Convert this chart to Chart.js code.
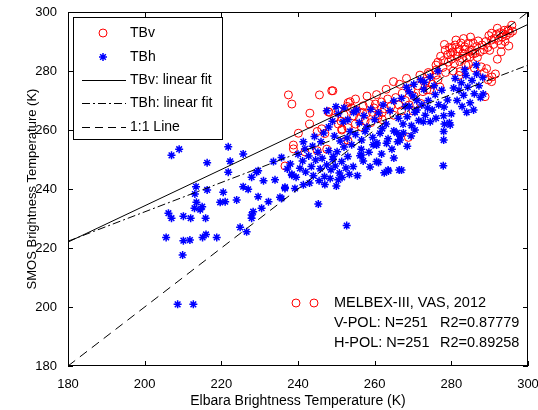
<!DOCTYPE html>
<html>
<head>
<meta charset="utf-8">
<script src="https://cdn.jsdelivr.net/npm/chart.js@4/dist/chart.umd.min.js"></script>
<style>
  html, body { margin: 0; padding: 0; background: #fff; }
  #wrap { width: 538px; height: 410px; }
</style>
</head>
<body>
<div id="wrap"><canvas id="scatterChart" width="538" height="410"></canvas></div>
<script>
// axis ticks
const xTicks = [180, 200, 220, 240, 260, 280, 300];
const yTicks = [180, 200, 220, 240, 260, 280, 300];

// TBv (V-pol) points: [Elbara, SMOS]
const tbvPoints = [
  [237.5,271.9],[238.4,268.8],[245.6,271.9],[248.8,273.3],[243.1,265.7],[248.1,266.0],[253.1,269.3],
  [240.1,258.9],[238.8,254.9],[238.8,253.6],[236.6,247.8],[241.8,252.6],[245.0,259.5],[246.2,260.4],
  [247.0,258.8],[245.0,253.0],[247.5,253.5],[250.5,262.0],[251.4,260.0],[252.0,256.0],[253.0,256.5],
  [255.0,262.0],[249.1,273.3],[243.0,262.0],[247.9,266.2],
  [249.5,264.0],[250.5,266.5],[251.2,263.0],[252.0,265.2],[252.8,268.0],[253.6,269.6],[254.5,264.8],
  [255.3,266.6],[256.0,263.8],[257.0,268.2],[257.8,265.5],[258.6,269.0],[259.4,266.0],[260.2,268.8],
  [261.0,265.0],[261.8,269.5],[262.6,267.2],[263.4,270.5],[264.2,268.0],[264.9,276.4],[265.5,271.0],
  [266.3,268.5],[267.2,272.5],[268.0,270.0],[268.3,277.5],[268.8,257.5],[269.5,273.8],[270.3,271.5],
  [271.2,275.0],[271.8,278.6],[272.6,273.0],[273.4,276.5],[273.6,273.6],[274.3,279.0],[275.0,275.5],
  [276.0,280.3],[276.5,277.0],[251.5,260.3],[253.0,260.8],[256.5,261.0],[259.0,262.5],[262.0,263.5],
  [265.0,265.0],[258.0,271.5],[260.5,272.0],[255.0,270.5],[263.0,273.8],[266.5,275.5],[270.0,266.5],
  [272.0,269.0],[254.0,267.5],[256.8,266.0],[259.8,267.5],[262.0,266.0],[257.5,263.0],[260.8,264.0],
  [274.0,279.5],[267.0,266.5],[269.0,268.5],
  [276.5,283.0],[277.2,285.0],[278.0,283.5],[278.4,287.1],[279.0,285.5],[279.5,288.0],[280.0,284.0],
  [280.4,286.5],[281.0,288.8],[281.5,285.0],[282.0,287.5],[282.5,289.5],[283.0,286.0],[283.5,288.2],
  [284.0,284.5],[284.4,289.4],[284.9,284.8],[285.3,287.0],[285.7,289.5],[286.2,286.0],[286.6,288.3],
  [287.0,290.2],[287.5,286.5],[288.0,288.8],[288.5,287.2],[289.0,290.0],[289.5,288.0],[290.0,287.0],
  [290.5,290.5],[291.0,289.0],[279.2,283.0],[280.8,282.5],[282.2,283.2],[283.8,282.0],[277.8,281.2],
  [276.0,282.0],[281.2,290.5],[283.2,291.0],[285.0,291.5],[278.2,289.0],[280.2,287.8],[282.8,284.3],
  [284.6,286.6],[286.8,284.6],[281.6,286.6],[279.8,286.0],[283.6,287.4],[285.6,285.8],
  [291.2,291.0],[291.8,292.5],[292.3,290.3],[292.8,293.0],[293.3,291.5],[293.8,293.8],[294.3,292.0],
  [294.8,294.0],[295.3,292.8],[295.8,295.5],[296.0,293.5],[292.0,294.5],[290.5,292.8],[294.0,290.0],
  [293.0,289.0],[289.8,292.0],[295.0,293.6],[293.6,292.6],
  [282.3,279.8],[287.8,281.4],[288.6,279.5],[289.2,280.8],[290.6,278.0],[291.5,279.0],[289.6,277.0],
  [288.8,271.3],[290.5,276.4],[276.0,278.6],[278.5,279.5],[280.5,280.0],[282.0,278.5],[274.4,273.6],
  [277.0,274.6],[284.5,282.2],[286.0,281.0],[292.0,284.0],[293.0,286.5],[295.0,288.5]
];

// TBh (H-pol) points: [Elbara, SMOS]
const tbhPoints = [
  [209.0,253.5],[207.0,251.4],[221.8,254.3],[225.7,251.9],[216.3,248.9],[221.8,245.7],[229.2,245.7],
  [213.4,240.8],[216.3,239.7],[213.1,238.3],[220.5,238.9],[225.7,240.8],[227.0,239.9],[224.0,236.3],
  [219.7,235.5],[221.0,235.7],[213.5,235.5],[215.0,234.0],[213.0,233.5],[214.5,233.0],[206.2,231.8],
  [207.0,230.1],[210.1,230.8],[212.0,230.1],[215.9,230.1],[228.3,232.3],[227.9,230.1],[224.9,227.0],
  [226.6,225.5],[205.6,223.6],[210.1,222.5],[211.8,222.7],[215.1,223.6],[216.0,224.6],[218.8,223.6],
  [209.9,217.6],[208.6,200.9],[212.7,200.9],
  [249.9,267.9],[222.3,249.4],[235.7,250.7],[233.6,249.3],[229.6,246.2],[227.9,244.0],[231.0,242.8],
  [234.0,243.1],[238.4,245.0],[236.6,240.6],[239.2,240.2],[241.4,241.4],[229.6,237.4],[232.3,235.7],
  [235.3,237.2],[230.5,233.5],[227.9,231.2],[245.3,234.9],[250.5,243.1],[252.7,227.6],[241.4,256.0],
  [246.0,256.0],[248.0,261.0],[251.8,262.8],[252.8,257.3],[249.2,251.0],[235.7,236.8],[238.4,244.7],
  [236.6,240.2],
  [240.5,247.0],[241.2,249.5],[242.0,245.8],[242.8,251.2],[243.5,247.6],[244.0,244.5],[244.6,249.8],
  [245.2,252.5],[245.8,246.9],[246.3,250.4],[246.9,244.2],[247.5,248.1],[248.0,253.0],[248.6,246.5],
  [249.1,250.0],[249.7,247.8],[250.2,252.6],[250.8,245.4],[251.4,249.3],[252.0,254.2],[252.5,247.1],
  [253.0,251.0],[240.0,251.8],[241.8,253.6],[243.8,254.5],[245.5,242.8],[247.0,241.5],[248.4,243.6],
  [250.0,241.0],[251.5,243.9],[253.4,245.0],[243.0,242.0],[238.0,248.5],[239.5,244.0],[237.2,246.8],
  [244.3,257.8],[246.7,259.0],[249.5,258.0],[251.0,256.3],[253.6,259.5],
  [256.2,251.3],[260.5,254.9],[261.8,251.9],[260.5,249.3],[263.6,246.1],[266.4,246.4],[261.4,258.9],
  [263.1,255.5],[265.8,259.0],[256.6,256.6],
  [278.0,256.6],[278.0,259.5],[278.2,262.0],[278.0,264.8],[278.1,267.8],[277.9,247.9],[263.5,246.4],
  [261.0,249.0],[254.4,247.6],[256.6,251.5],[259.6,255.0],[260.6,255.6],[263.5,257.0],[265.0,259.7],
  [266.6,258.0],[266.6,256.6],[267.0,246.4],[272.7,262.8],[279.7,261.7],
  [267.4,262.0],[268.5,264.5],[269.6,261.5],[270.5,266.0],[271.5,263.2],[272.3,268.5],[273.2,265.0],
  [274.0,270.0],[275.0,266.8],[275.8,272.0],[276.7,268.6],[277.5,273.5],[279.0,270.2],[268.3,274.5],
  [270.0,271.5],[272.8,273.8],[274.5,262.8],[276.0,264.0],[279.5,262.5],[280.0,265.5],[269.0,268.0],
  [271.0,266.8],[273.8,267.5],
  [281.5,270.0],[282.0,273.5],[282.6,276.0],[283.2,271.8],[283.8,278.5],[284.3,274.5],[284.9,269.2],
  [285.4,276.8],[286.0,272.3],[286.6,279.0],[287.2,275.0],[281.0,277.5],[282.8,268.0],[285.8,266.8],
  [287.6,271.0],[283.5,280.5],[280.6,274.2],[288.2,277.8],[284.0,266.0],[286.5,282.0],[288.3,272.2],
  [253.0,263.5],[254.5,266.0],[255.3,266.8],[256.0,262.5],[257.2,264.8],[258.0,261.0],[259.0,267.0],
  [260.0,263.5],[261.0,265.8],[262.2,268.5],[263.0,262.0],[264.0,266.5],[265.0,269.8],[266.2,264.0],
  [267.0,270.8],[268.0,268.0],[269.0,273.0],[270.2,275.5],[271.0,270.0],[272.0,277.0],[273.0,276.2],
  [274.5,278.0],[275.5,275.0],[276.5,280.0],[249.0,263.0],[250.5,265.5],[252.0,267.5],[247.5,266.5],
  [254.0,255.0],[255.0,258.5],[256.5,253.5],[257.5,259.5],[258.5,252.5],[259.5,257.5],[262.0,260.5],
  [264.5,253.5],[266.0,256.0],[267.5,259.0],[268.5,254.5],[269.5,258.0],[270.5,260.0],[257.0,249.5],
  [258.8,247.5],[255.5,244.5],[265.0,250.5],[262.5,245.5]
];

// regression lines and 1:1 line (end points)
const fitX = [180, 300];
const tbvFitY = [222.0, 295.8];
const tbhFitY = [222.3, 282.0];
const oneToOneY = [180, 300];

const legendLabels = ["TBv", "TBh", "TBv: linear fit", "TBh: linear fit", "1:1 Line"];
const noteLines = ["MELBEX-III, VAS, 2012", "V-POL: N=251", "H-POL: N=251"];
const noteR2 = ["", "R2=0.87779", "R2=0.89258"];

const FONT = '"Liberation Sans", Arial, Helvetica, sans-serif';
Chart.defaults.font.family = FONT;
Chart.defaults.color = "#000";

const toXY = arr => arr.map(p => ({ x: p[0], y: p[1] }));
const lineXY = ys => fitX.map((x, i) => ({ x: x, y: ys[i] }));

// open circle helper (drawPoint fills too)
function ring(ctx, style, x, y, w) {
  ctx.save();
  ctx.fillStyle = "rgba(0,0,0,0)";
  Chart.helpers.drawPoint(ctx, { pointStyle: style, radius: 4, borderWidth: w }, x, y);
  ctx.restore();
}

// box, inside ticks, legend and the note text
const framePlugin = {
  id: "frame",
  afterDraw(chart) {
    const { ctx, chartArea: a, scales } = chart;
    const x = scales.x, y = scales.y;
    ctx.save();
    ctx.strokeStyle = "#000";
    ctx.lineWidth = 1;
    ctx.setLineDash([]);
    ctx.strokeRect(Math.round(a.left) + 0.5, Math.round(a.top) + 0.5,
                   Math.round(a.width) - 1, Math.round(a.height) - 1);

    ctx.beginPath();
    xTicks.forEach(v => {
      const px = Math.round(x.getPixelForValue(v)) + 0.5;
      ctx.moveTo(px, a.bottom); ctx.lineTo(px, a.bottom - 5);
      ctx.moveTo(px, a.top); ctx.lineTo(px, a.top + 5);
    });
    yTicks.forEach(v => {
      const py = Math.round(y.getPixelForValue(v)) + 0.5;
      ctx.moveTo(a.left, py); ctx.lineTo(a.left + 5, py);
      ctx.moveTo(a.right, py); ctx.lineTo(a.right - 5, py);
    });
    ctx.stroke();

    // legend box
    const lx = Math.round(a.left) + 5, ly = Math.round(a.top) + 5, lw = 149, lh = 122;
    ctx.fillStyle = "#fff";
    ctx.fillRect(lx, ly, lw, lh);
    ctx.strokeRect(lx + 0.5, ly + 0.5, lw, lh);

    const rows = [16, 40, 63, 86, 110];
    const mx = lx + 30;
    ctx.font = "14px " + FONT;
    ctx.textBaseline = "middle";
    ctx.textAlign = "left";
    ctx.fillStyle = "#000";
    rows.forEach((r, i) => {
      ctx.fillText(legendLabels[i], lx + 57, ly + r);
    });
    ctx.strokeStyle = "#ff0000";
    ctx.lineWidth = 1;
    ring(ctx, "circle", mx, ly + rows[0], 1);
    ctx.strokeStyle = "#0000ff";
    ctx.lineWidth = 1.5;
    ring(ctx, "star", mx, ly + rows[1], 1.5);

    ctx.strokeStyle = "#000";
    ctx.lineWidth = 1;
    const dashes = [[], [8, 3, 2, 3], [8, 5]];
    dashes.forEach((d, i) => {
      ctx.setLineDash(d);
      ctx.beginPath();
      const ry = Math.round(ly + rows[i + 2]) + 0.5;
      ctx.moveTo(lx + 9, ry);
      ctx.lineTo(lx + 53, ry);
      ctx.stroke();
    });
    ctx.setLineDash([]);

    // note at the lower right
    const nx = a.left + 266, ny = a.bottom - 63;
    ctx.strokeStyle = "#ff0000";
    ctx.lineWidth = 1;
    ring(ctx, "circle", a.left + 228, ny, 1);
    ring(ctx, "circle", a.left + 246, ny, 1);
    ctx.fillStyle = "#000";
    ctx.font = "14.5px " + FONT;
    noteLines.forEach((t, i) => {
      ctx.fillText(t, nx, ny + i * 20);
      if (noteR2[i]) ctx.fillText(noteR2[i], a.left + 372, ny + i * 20);
    });
    ctx.restore();
  }
};

new Chart(document.getElementById("scatterChart"), {
  type: "scatter",
  data: {
    datasets: [
      {
        label: "TBv: linear fit",
        data: lineXY(tbvFitY),
        showLine: true,
        borderColor: "#000",
        borderWidth: 1,
        pointRadius: 0,
        order: 0
      },
      {
        label: "TBh: linear fit",
        data: lineXY(tbhFitY),
        showLine: true,
        borderColor: "#000",
        borderWidth: 1,
        borderDash: [8, 3, 2, 3],
        pointRadius: 0,
        order: 0
      },
      {
        label: "1:1 Line",
        data: lineXY(oneToOneY),
        showLine: true,
        borderColor: "#000",
        borderWidth: 1,
        borderDash: [9, 6],
        pointRadius: 0,
        order: 0
      },
      {
        label: "TBh",
        data: toXY(tbhPoints),
        pointStyle: "star",
        pointRadius: 4,
        borderColor: "#0000ff",
        backgroundColor: "#0000ff",
        borderWidth: 1.5,
        order: 1
      },
      {
        label: "TBv",
        data: toXY(tbvPoints),
        pointStyle: "circle",
        pointRadius: 4,
        borderColor: "#ff0000",
        backgroundColor: "rgba(0,0,0,0)",
        borderWidth: 1,
        order: 2
      }
    ]
  },
  options: {
    responsive: false,
    animation: false,
    layout: { padding: { left: 25, right: 10, top: 12, bottom: 0 } },
    plugins: {
      legend: { display: false },
      tooltip: { enabled: false }
    },
    scales: {
      x: {
        type: "linear",
        min: 180,
        max: 300,
        afterBuildTicks: s => { s.ticks = xTicks.map(v => ({ value: v })); },
        afterFit: s => { s.height = 44; s.paddingLeft = 0; s.paddingRight = 0; },
        ticks: { font: { size: 13 }, padding: 3, color: "#000", maxRotation: 0 },
        grid: { display: false },
        border: { display: false },
        title: { display: true, text: "Elbara Brightness Temperature (K)", font: { size: 14 }, padding: 0, color: "#000" }
      },
      y: {
        type: "linear",
        min: 180,
        max: 300,
        afterBuildTicks: s => { s.ticks = yTicks.map(v => ({ value: v })); },
        afterFit: s => { s.width = 43; s.paddingTop = 0; s.paddingBottom = 0; },
        ticks: { font: { size: 13 }, padding: 3, color: "#000" },
        grid: { display: false },
        border: { display: false },
        title: { display: true, text: "SMOS Brightness Temperature (K)", font: { size: 13 }, padding: 0, color: "#000" }
      }
    }
  },
  plugins: [framePlugin]
});
</script>
</body>
</html>
